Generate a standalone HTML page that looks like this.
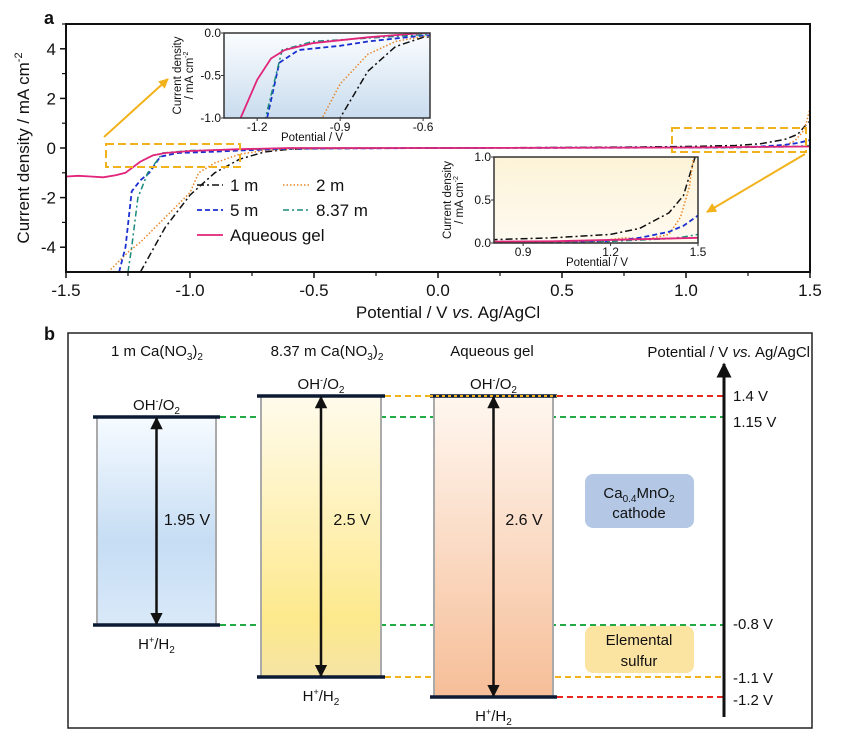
<!DOCTYPE html>
<html><head><meta charset="utf-8"><style>
body{margin:0;background:#fff}
svg text{font-family:"Liberation Sans",sans-serif;fill:#111}
</style></head><body>
<svg id="fig" width="841" height="751" viewBox="0 0 841 751" xmlns="http://www.w3.org/2000/svg">
<defs>
<linearGradient id="gIn1" x1="0" y1="0" x2="0" y2="1"><stop offset="0" stop-color="#fbfdff"/><stop offset="1" stop-color="#c9dcee"/></linearGradient>
<linearGradient id="gIn2" x1="0" y1="0" x2="0" y2="1"><stop offset="0" stop-color="#fdf3d8"/><stop offset="1" stop-color="#fefaf0"/></linearGradient>
<linearGradient id="gB1" x1="0" y1="0" x2="0" y2="1"><stop offset="0" stop-color="#f6fbff"/><stop offset="0.6" stop-color="#c6ddf4"/><stop offset="1" stop-color="#d9e9f9"/></linearGradient>
<linearGradient id="gB2" x1="0" y1="0" x2="0" y2="1"><stop offset="0" stop-color="#fffbec"/><stop offset="0.8" stop-color="#fde98c"/><stop offset="1" stop-color="#f5e4a6"/></linearGradient>
<linearGradient id="gB3" x1="0" y1="0" x2="0" y2="1"><stop offset="0" stop-color="#fff7f0"/><stop offset="1" stop-color="#f6be98"/></linearGradient>
<clipPath id="cMain"><rect x="66" y="24" width="744" height="248"/></clipPath>
<clipPath id="cIn1"><rect x="224" y="33" width="206" height="85"/></clipPath>
<clipPath id="cIn2"><rect x="494" y="157" width="204" height="86"/></clipPath>
<marker id="ah" viewBox="0 0 10 10" refX="9" refY="5" markerWidth="5" markerHeight="5" orient="auto-start-reverse"><path d="M0,0L10,5L0,10z" fill="#111"/></marker>
<marker id="ahO" viewBox="0 0 10 10" refX="9" refY="5" markerWidth="5" markerHeight="5" orient="auto"><path d="M0,0L10,5L0,10z" fill="#f2b21c"/></marker>
</defs>
<g id="panelA"></g>
<g id="panelB"></g>
</svg>
<script>
// ---- Panel a data ----
const seriesNames = ['1 m','2 m','5 m','8.37 m','Aqueous gel'];
const v1m = [-1.20,-1.10,-1.0,-0.9,-0.8,-0.7,-0.6,-0.4,0,0.5,0.8,1.0,1.2,1.3,1.4,1.45,1.49,1.5];
const j1m = [-5,-3.2,-1.9,-1.0,-0.45,-0.16,-0.05,-0.01,0,0.02,0.04,0.06,0.1,0.17,0.35,0.55,1.0,1.08];
const v2m = [-1.33,-1.25,-1.2,-1.12,-1.0,-0.965,-0.9,-0.8,-0.7,-0.6,0,1.0,1.15,1.25,1.32,1.4,1.44,1.47,1.485,1.5];
const j2m = [-5,-4.2,-3.8,-3.0,-1.8,-1.0,-0.6,-0.25,-0.1,-0.04,0,0.02,0.02,0.06,0.04,0.1,0.3,0.65,1.0,1.6];
const v5m = [-1.286,-1.26,-1.235,-1.2,-1.164,-1.12,-1.05,-0.9,-0.8,-0.6,0,1.2,1.3,1.4,1.45,1.5];
const j5m = [-5,-4,-1.75,-1.3,-1.0,-0.35,-0.2,-0.15,-0.1,-0.03,0,0.02,0.06,0.13,0.2,0.32];
const v837 = [-1.25,-1.235,-1.21,-1.17,-1.14,-1.11,-1.0,-0.8,-0.6,0,1.2,1.4,1.45,1.5];
const j837 = [-5,-4,-2,-1.0,-0.6,-0.2,-0.1,-0.06,-0.02,0,0.02,0.05,0.07,0.1];
const vGel = [-1.5,-1.45,-1.4,-1.35,-1.3,-1.26,-1.2,-1.15,-1.1,-1.0,-0.8,-0.6,0,1.0,1.5];
const jGel = [-1.15,-1.12,-1.15,-1.18,-1.1,-1.0,-0.55,-0.3,-0.2,-0.12,-0.05,0,0,0.02,0.06];
const xTicks = [-1.5,-1.0,-0.5,0.0,0.5,1.0,1.5];
const xTickLabels = ['-1.5','-1.0','-0.5','0.0','0.5','1.0','1.5'];
const yTicks = [4,2,0,-2,-4];
const yTickLabels = ['4','2','0','-2','-4'];
const in1XTicks = [-1.2,-0.9,-0.6]; const in1XLabels=['-1.2','-0.9','-0.6'];
const in1YTicks = [0,-0.5,-1.0]; const in1YLabels=['0.0','-0.5','-1.0'];
const in2XTicks = [0.9,1.2,1.5]; const in2XLabels=['0.9','1.2','1.5'];
const in2YTicks = [1.0,0.5,0.0]; const in2YLabels=['1.0','0.5','0.0'];

const styles = [
 {c:'#111',d:'7,3,2,3',w:1.5},
 {c:'#e8862a',d:'1.5,2',w:1.5},
 {c:'#1a2fd0',d:'5,3',w:1.8},
 {c:'#1a8a7a',d:'6,3,2,3',w:1.5},
 {c:'#e0257a',d:'',w:1.8}];
const allV=[v1m,v2m,v5m,v837,vGel], allJ=[j1m,j2m,j5m,j837,jGel];
const NS='http://www.w3.org/2000/svg';
function mk(parent,tag,attrs,txt){const e=document.createElementNS(NS,tag);for(const k in attrs)e.setAttribute(k,attrs[k]);if(txt!==undefined)e.textContent=txt;parent.appendChild(e);return e;}
const A=document.getElementById('panelA');

function axis(x0,x1,v0,v1){return v=>x0+(v-v0)/(v1-v0)*(x1-x0);}
const xM=axis(66,810,-1.5,1.5), yM=axis(272,24,-5,5);

let t=mk(A,'text',{x:44,y:24,'font-size':18,'font-weight':'bold'},'a');


function drawSeries(g,xf,yf,clip,tag){
 for(let s=0;s<5;s++){
  const d=allV[s].map((v,i)=>(i?'L':'M')+xf(v).toFixed(1)+','+yf(allJ[s][i]).toFixed(1)).join('');
  const p=mk(g,'path',{d:d,fill:'none',stroke:styles[s].c,'stroke-width':styles[s].w,'stroke-dasharray':styles[s].d,'clip-path':'url(#'+clip+')'});
  
  
 }
}
drawSeries(A,xM,yM,'cMain','main');

let fr=mk(A,'rect',{x:66,y:24,width:744,height:248,fill:'none',stroke:'#111','stroke-width':2});

xTicks.forEach((v,i)=>{
 mk(A,'line',{x1:xM(v),x2:xM(v),y1:272,y2:278,stroke:'#111','stroke-width':1.5});
 if(i<xTicks.length-1) mk(A,'line',{x1:xM(v+0.25),x2:xM(v+0.25),y1:272,y2:276,stroke:'#111','stroke-width':1.2});
 const e=mk(A,'text',{x:xM(v),y:296,'font-size':17,'text-anchor':'middle'},xTickLabels[i]);
 
});
yTicks.forEach((v,i)=>{
 mk(A,'line',{x1:60,x2:66,y1:yM(v),y2:yM(v),stroke:'#111','stroke-width':1.5});
 mk(A,'line',{x1:62,x2:66,y1:yM(v+1),y2:yM(v+1),stroke:'#111','stroke-width':1.2});
 const e=mk(A,'text',{x:56,y:yM(v)+6,'font-size':17,'text-anchor':'end'},yTickLabels[i]);
 
});
mk(A,'line',{x1:62,x2:66,y1:yM(-4),y2:yM(-4),stroke:'#111'});
t=mk(A,'text',{x:448,y:318,'font-size':17,'text-anchor':'middle'});
t.innerHTML='Potential / V <tspan font-style="italic">vs.</tspan> Ag/AgCl';

t=mk(A,'text',{x:0,y:0,'font-size':17,'text-anchor':'middle',transform:'translate(29,148) rotate(-90)'});
t.innerHTML='Current density / mA cm<tspan dy="-7" font-size="11">-2</tspan>';


let zb=mk(A,'rect',{x:106,y:144,width:134,height:23,fill:'none',stroke:'#f2b21c','stroke-width':2,'stroke-dasharray':'8,4'});

zb=mk(A,'rect',{x:672,y:128,width:134,height:24,fill:'none',stroke:'#f2b21c','stroke-width':2,'stroke-dasharray':'8,4'});

let ar=mk(A,'line',{x1:104,y1:137,x2:168,y2:79,stroke:'#f2b21c','stroke-width':2,'marker-end':'url(#ahO)'});

ar=mk(A,'line',{x1:805,y1:154,x2:707,y2:212,stroke:'#f2b21c','stroke-width':2,'marker-end':'url(#ahO)'});


const legPos=[[197,185],[283,185],[197,210],[283,210],[197,235]];
seriesNames.forEach((n,s)=>{
 const [lx,ly]=legPos[s];
 const g=mk(A,'g',{});
 
 
 mk(g,'line',{x1:lx,x2:lx+26,y1:ly,y2:ly,stroke:styles[s].c,'stroke-width':styles[s].w,'stroke-dasharray':styles[s].d});
 mk(g,'text',{x:lx+33,y:ly+6,'font-size':17},n);
});

function inset(x0,y0,x1,y1,vx0,vx1,jy0,jy1,fill,clip,xt,xl,yt,yl,tag,titleX){
 const g=mk(A,'g',{});
 
 mk(g,'rect',{x:x0,y:y0,width:x1-x0,height:y1-y0,fill:fill});
 const xf=axis(x0,x1,vx0,vx1), yf=axis(y1,y0,jy0,jy1);
 drawSeries(g,xf,yf,clip,tag);
 mk(g,'rect',{x:x0,y:y0,width:x1-x0,height:y1-y0,fill:'none',stroke:'#333','stroke-width':1.5});
 xt.forEach((v,i)=>{mk(g,'line',{x1:xf(v),x2:xf(v),y1:y1,y2:y1+3,stroke:'#333'});
  const e=mk(g,'text',{x:xf(v),y:y1+13,'font-size':12,'text-anchor':'middle'},xl[i]);
  });
 yt.forEach((v,i)=>{mk(g,'line',{x1:x0-3,x2:x0,y1:yf(v),y2:yf(v),stroke:'#333'});
  const e=mk(g,'text',{x:x0-3,y:yf(v)+4,'font-size':12,'text-anchor':'end'},yl[i]);
  });
 let e=mk(g,'text',{x:titleX,y:y1+23,'font-size':11.5,'text-anchor':'middle'},'Potential / V');
 
 e=mk(g,'text',{x:0,y:0,'font-size':11.5,'text-anchor':'middle',transform:'translate('+(x0-43)+','+((y0+y1)/2)+') rotate(-90)'},'Current density');
 
 e=mk(g,'text',{x:0,y:0,'font-size':11.5,'text-anchor':'middle',transform:'translate('+(x0-31)+','+((y0+y1)/2)+') rotate(-90)'});
 e.innerHTML='/ mA cm<tspan dy="-5" font-size="7">-2</tspan>';
 
}
inset(224,33,430,118,-1.32,-0.575,-1.0,0.0,'url(#gIn1)','cIn1',in1XTicks,in1XLabels,in1YTicks,in1YLabels,'inset-cathodic',312);
inset(494,157,698,243,0.8,1.5,0.0,1.0,'url(#gIn2)','cIn2',in2XTicks,in2XLabels,in2YTicks,in2YLabels,'inset-anodic',597);

// ---- Panel b ----
const B=document.getElementById('panelB');
t=mk(B,'text',{x:44,y:340,'font-size':18,'font-weight':'bold'},'b');

fr=mk(B,'rect',{x:68,y:333,width:744,height:395,fill:'none',stroke:'#222','stroke-width':1.5});


const bars=[
 {n:'1 m',x0:93,x1:220,top:417,bot:625,fill:'url(#gB1)',lab:'1.95 V',lx:187,title:'1 m Ca(NO<tspan dy="4" font-size="10">3</tspan><tspan dy="-4">)</tspan><tspan dy="4" font-size="10">2</tspan>',tx:157},
 {n:'8.37 m',x0:257,x1:385,top:396,bot:677,fill:'url(#gB2)',lab:'2.5 V',lx:352,title:'8.37 m Ca(NO<tspan dy="4" font-size="10">3</tspan><tspan dy="-4">)</tspan><tspan dy="4" font-size="10">2</tspan>',tx:327},
 {n:'aqueous gel',x0:430,x1:557,top:396,bot:697,fill:'url(#gB3)',lab:'2.6 V',lx:524,title:'Aqueous gel',tx:492}];
const lvl=[[220,724,417,'#22aa44'],[220,724,625,'#22aa44'],[385,430,396,'#f2b21c'],[385,724,677,'#f2b21c'],[557,724,396,'#e8281e'],[557,724,697,'#e8281e']];
lvl.forEach(l=>{const e=mk(B,'line',{x1:l[0],x2:l[1],y1:l[2],y2:l[2],stroke:l[3],'stroke-width':2,'stroke-dasharray':'6,4'});
 });
bars.forEach(b=>{
 const g=mk(B,'g',{});
 
 mk(g,'rect',{x:b.x0+4,y:b.top,width:b.x1-b.x0-8,height:b.bot-b.top,fill:b.fill,stroke:'#aaa','stroke-width':2});
 mk(g,'line',{x1:b.x0,x2:b.x1,y1:b.top,y2:b.top,stroke:'#0d1a33','stroke-width':3.5});
 mk(g,'line',{x1:b.x0,x2:b.x1,y1:b.bot,y2:b.bot,stroke:'#0d1a33','stroke-width':3.5});
 const cx=(b.x0+b.x1)/2;
 mk(g,'line',{x1:cx,x2:cx,y1:b.bot-1,y2:b.top+1,stroke:'#111','stroke-width':2.5,'marker-end':'url(#ah)','marker-start':'url(#ah)'});
 let e=mk(g,'text',{x:b.lx,y:525,'font-size':16,'text-anchor':'middle'},b.lab);
 
 e=mk(g,'text',{x:cx,y:b.top-7,'font-size':15,'text-anchor':'middle'});
 e.innerHTML='OH<tspan dy="-6" font-size="9">-</tspan><tspan dy="6">/O</tspan><tspan dy="4" font-size="10">2</tspan>';
 
 e=mk(g,'text',{x:cx,y:b.bot+24,'font-size':15,'text-anchor':'middle'});
 e.innerHTML='H<tspan dy="-6" font-size="9">+</tspan><tspan dy="6">/H</tspan><tspan dy="4" font-size="10">2</tspan>';
 
 e=mk(g,'text',{x:b.tx,y:356,'font-size':15,'text-anchor':'middle'});e.innerHTML=b.title;
 
});
mk(B,'line',{x1:430,x2:557,y1:396,y2:396,stroke:'#f2b21c','stroke-width':2,'stroke-dasharray':'3,3'});
ar=mk(B,'line',{x1:724,x2:724,y1:717,y2:364,stroke:'#111','stroke-width':3,'marker-end':'url(#ah)'});

t=mk(B,'text',{x:810,y:357,'font-size':15,'text-anchor':'end'});
t.innerHTML='Potential / V <tspan font-style="italic">vs.</tspan> Ag/AgCl';

const levelLabels=['1.4 V','1.15 V','-0.8 V','-1.1 V','-1.2 V'];
const levelY=[396,422,624,678,700];
levelLabels.forEach((l,i)=>{const e=mk(B,'text',{x:733,y:levelY[i]+5,'font-size':15},l);
 });
let bx=mk(B,'rect',{x:585,y:474,width:109,height:54,rx:8,fill:'#b4c8e6'});

t=mk(B,'text',{x:639,y:498,'font-size':15,'text-anchor':'middle'});
t.innerHTML='Ca<tspan dy="4" font-size="10">0.4</tspan><tspan dy="-4">MnO</tspan><tspan dy="4" font-size="10">2</tspan>';

t=mk(B,'text',{x:639,y:518,'font-size':15,'text-anchor':'middle'},'cathode');

bx=mk(B,'rect',{x:585,y:626,width:109,height:47,rx:8,fill:'#fbe3a2'});

t=mk(B,'text',{x:639,y:645,'font-size':15,'text-anchor':'middle'},'Elemental');

t=mk(B,'text',{x:639,y:666,'font-size':15,'text-anchor':'middle'},'sulfur');

</script>
</body></html>
